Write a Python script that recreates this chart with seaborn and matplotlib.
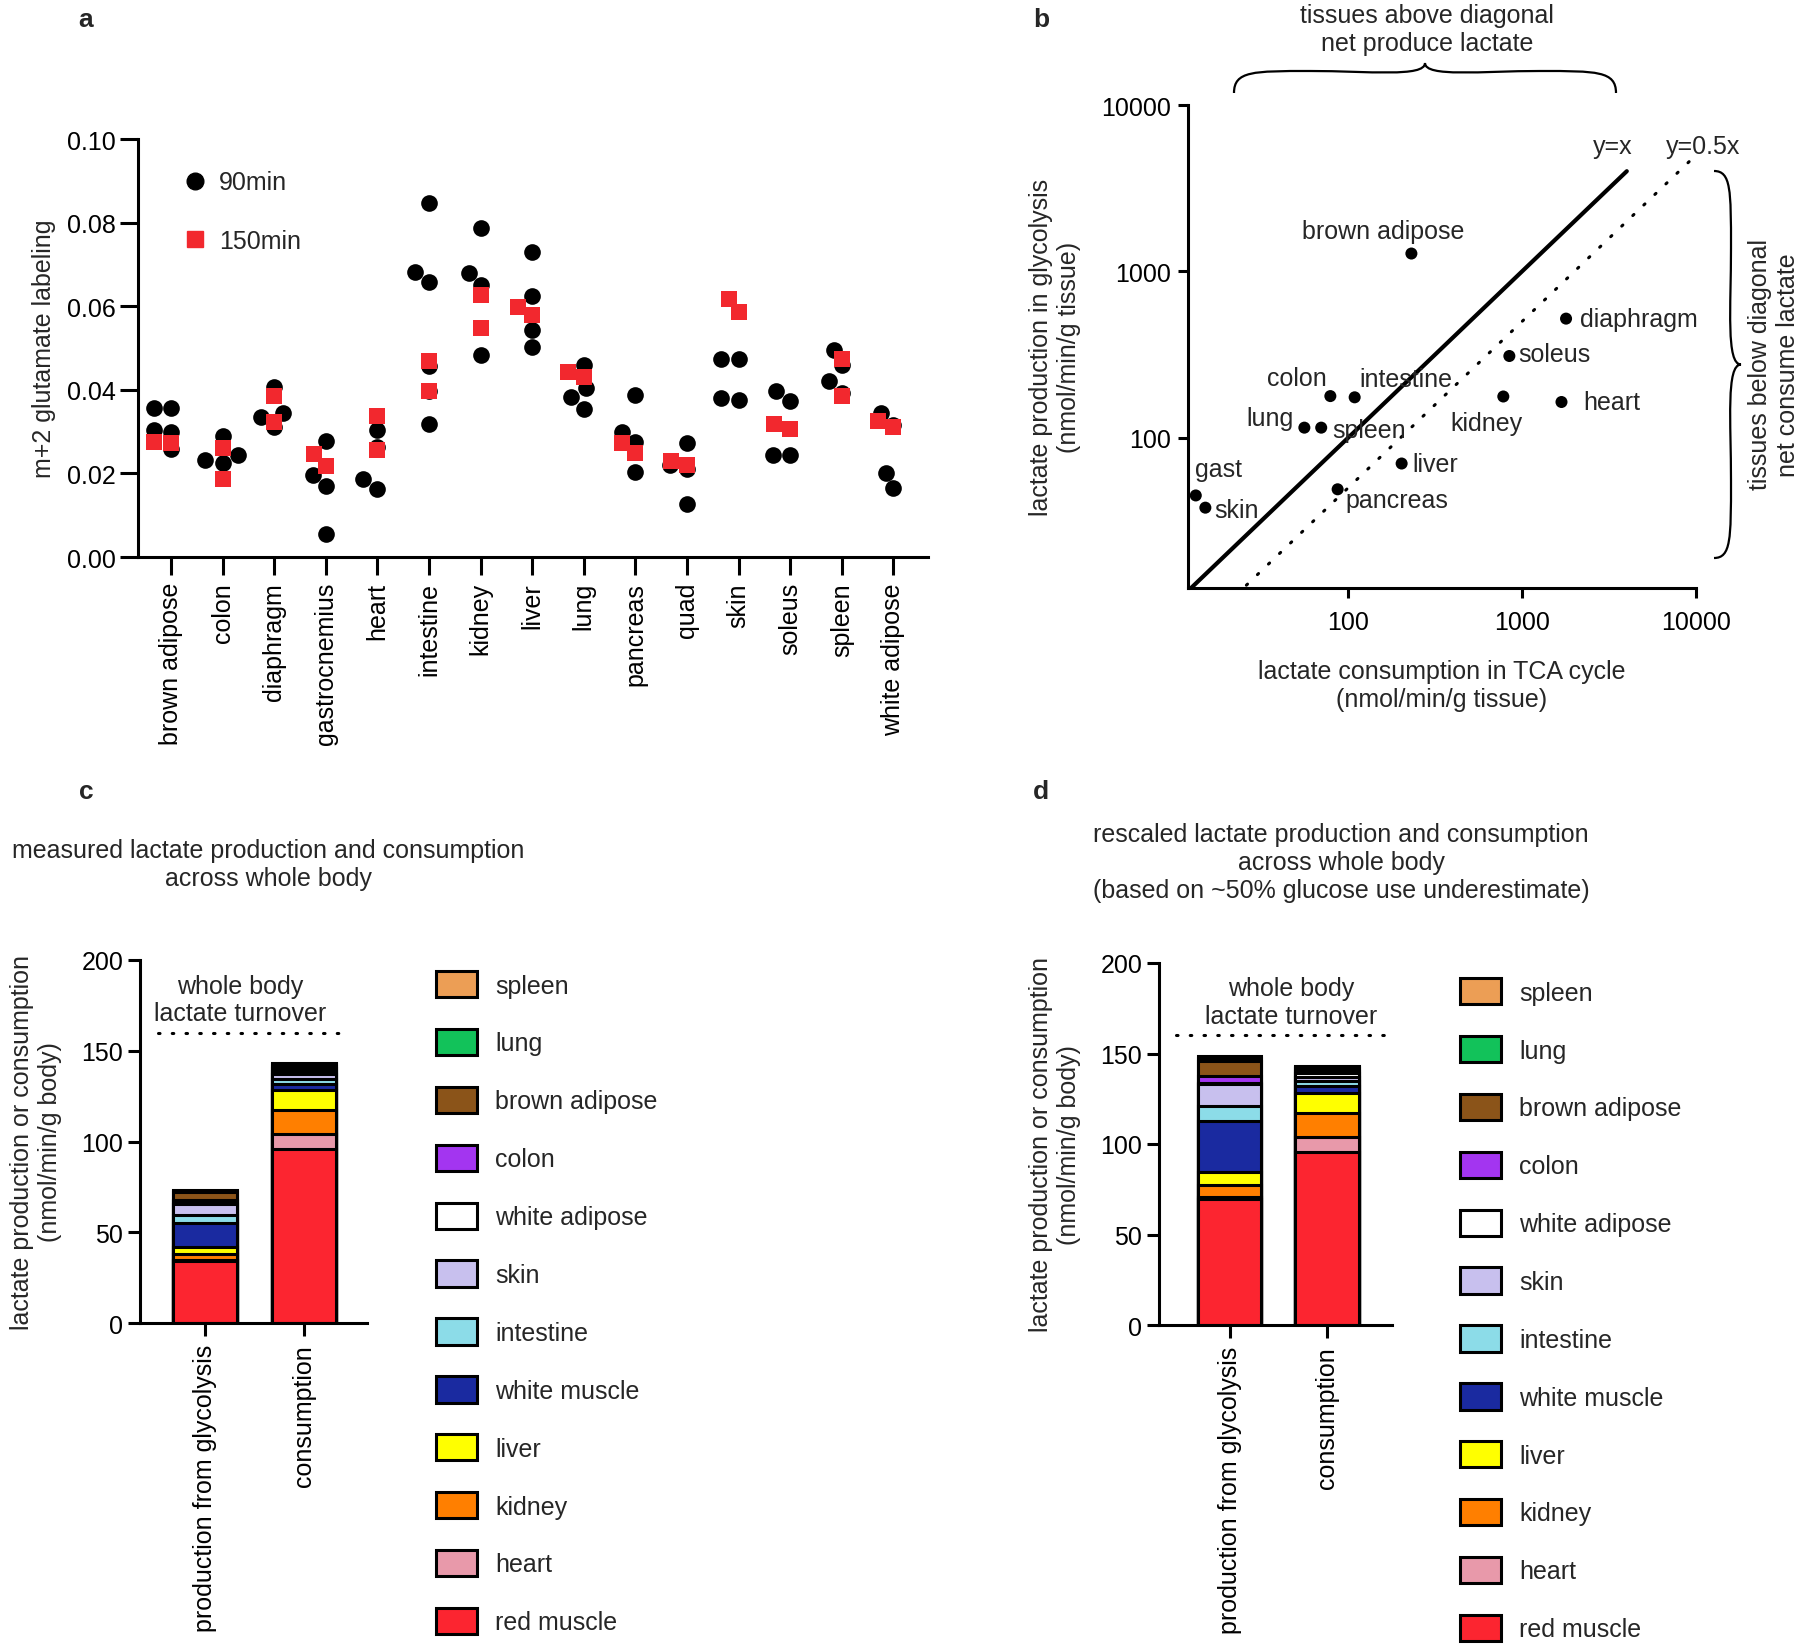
import numpy as np
import pandas as pd
import seaborn as sns
import matplotlib.pyplot as plt
from matplotlib.patches import Patch, PathPatch
from matplotlib.lines import Line2D
from matplotlib.path import Path
from matplotlib.ticker import NullLocator, FormatStrFormatter


# ---- panel a data: m+2 glutamate labeling per tissue ----
tissues_a = ['brown adipose', 'colon', 'diaphragm', 'gastrocnemius', 'heart',
             'intestine', 'kidney', 'liver', 'lung', 'pancreas', 'quad',
             'skin', 'soleus', 'spleen', 'white adipose']
glu_90min = [
    [0.0356, 0.0356, 0.0304, 0.0298, 0.0258],
    [0.0290, 0.0244, 0.0232, 0.0224],
    [0.0406, 0.0344, 0.0336, 0.0310],
    [0.0278, 0.0196, 0.0170, 0.0056],
    [0.0304, 0.0262, 0.0186, 0.0162],
    [0.0848, 0.0682, 0.0658, 0.0458, 0.0398, 0.0318],
    [0.0786, 0.0680, 0.0650, 0.0484],
    [0.0730, 0.0624, 0.0542, 0.0502],
    [0.0460, 0.0404, 0.0382, 0.0354],
    [0.0387, 0.0300, 0.0274, 0.0204],
    [0.0272, 0.0220, 0.0210, 0.0126],
    [0.0474, 0.0474, 0.0380, 0.0376],
    [0.0398, 0.0374, 0.0244, 0.0244],
    [0.0496, 0.0460, 0.0420, 0.0392],
    [0.0344, 0.0316, 0.0200, 0.0164],
]
glu_150min = [
    [0.0276, 0.0272],
    [0.0260, 0.0186],
    [0.0386, 0.0324],
    [0.0246, 0.0218],
    [0.0338, 0.0256],
    [0.0468, 0.0398],
    [0.0626, 0.0548],
    [0.0598, 0.0578],
    [0.0442, 0.0430],
    [0.0272, 0.0250],
    [0.0230, 0.0220],
    [0.0618, 0.0586],
    [0.0318, 0.0306],
    [0.0474, 0.0384],
    [0.0326, 0.0312],
]

# ---- panel b data: lactate consumption (TCA) vs production (glycolysis) ----
tissues_b = ['brown adipose', 'diaphragm', 'soleus', 'heart', 'kidney', 'colon',
             'intestine', 'lung', 'spleen', 'liver', 'pancreas', 'gast', 'skin']
consumption_tca = [231, 1790, 845, 1685, 780, 79, 109, 56, 70, 203, 87, 13.3, 15.1]
production_glyc = [1280, 520, 310, 164, 177, 178, 175, 115, 115, 70, 49, 45, 38]
# label offsets in points (dx, dy, ha)
label_offsets = [(-20, 16, 'center'), (10, 0, 'left'), (6.6, 1.6, 'left'),
                 (15.7, 0, 'left'), (-12, -19, 'center'), (-2.5, 13, 'right'),
                 (3.3, 13, 'left'), (-7.4, 6.6, 'right'), (8.3, -1.6, 'left'),
                 (7.4, 0, 'left'), (5.8, -7.4, 'left'), (-0.8, 19, 'left'),
                 (6.6, -1.6, 'left')]

# ---- panels c/d data: stacked whole body lactate flux (bottom -> top) ----
layers = ['red muscle', 'heart', 'kidney', 'liver', 'white muscle', 'intestine',
          'skin', 'white adipose', 'colon', 'brown adipose', 'lung', 'spleen']
layer_colors = ['#FC2530', '#E899AA', '#FF7F00', '#FFFF00', '#1A2AA0', '#8CDCE8',
                '#C8C0EE', '#FFFFFF', '#A335F0', '#8B5419', '#12C25A', '#EC9E55']
measured_production = [34.2, 0.7, 3.1, 3.7, 13.6, 4.4, 5.9, 1.5, 0.9, 4.4, 0.5, 0.5]
rescaled_production = [69.6, 1.3, 6.3, 7.6, 27.7, 8.5, 12.0, 0.7, 3.7, 8.5, 1.4, 1.4]
consumption = [95.6, 8.5, 13.2, 11.0, 3.5, 2.8, 2.6, 1.8, 1.5, 1.3, 0.7, 0.7]
bar_names = ['production from glycolysis', 'consumption']
whole_body_turnover = 160


sns.set_style('ticks')
plt.rcParams['font.family'] = ['Liberation Sans', 'DejaVu Sans']
plt.rcParams['font.size'] = 18
plt.rcParams['axes.linewidth'] = 2.2
plt.rcParams['xtick.major.width'] = 2.2
plt.rcParams['ytick.major.width'] = 2.2
plt.rcParams['xtick.color'] = 'black'
plt.rcParams['ytick.color'] = 'black'
plt.rcParams['axes.edgecolor'] = 'black'

W, H = 1800, 1649
fig = plt.figure(figsize=(18, 16.49), dpi=100)


def px_axes(left, top, right, bottom):
    return fig.add_axes([left / W, 1 - bottom / H, (right - left) / W, (bottom - top) / H])


def brace(x0, y0, x1, y1, depth, tip, vertical=False):
    # curly brace between two points (pixel coords, y from top), bulging by depth
    if not vertical:
        xm = (x0 + x1) / 2
        w = x1 - x0
        ya, yt = y0 - depth, y0 - tip
        pts = [(x0, y0), (x0, ya), (x0 + 0.05 * w, ya), (x0 + 0.2 * w, ya),
               (x0 + 0.35 * w, ya), (xm, ya + 0.3 * depth), (xm, yt),
               (xm, ya + 0.3 * depth), (x1 - 0.35 * w, ya), (x1 - 0.2 * w, ya),
               (x1 - 0.05 * w, ya), (x1, ya), (x1, y1)]
    else:
        ym = (y0 + y1) / 2
        h = y1 - y0
        xa, xt = x0 + depth, x0 + tip
        pts = [(x0, y0), (xa, y0), (xa, y0 + 0.05 * h), (xa, y0 + 0.2 * h),
               (xa, y0 + 0.35 * h), (xa - 0.3 * depth, ym), (xt, ym),
               (xa - 0.3 * depth, ym), (xa, y1 - 0.35 * h), (xa, y1 - 0.2 * h),
               (xa, y1 - 0.05 * h), (xa, y1), (x1, y1)]
    verts = [(x / W, 1 - y / H) for x, y in pts]
    codes = [Path.MOVETO] + [Path.CURVE4] * 12
    fig.add_artist(PathPatch(Path(verts, codes), fill=False, lw=1.6,
                             edgecolor='black', transform=fig.transFigure))


red = '#F2282E'

# ---------------- panel a ----------------
ax_a = px_axes(138, 140, 928, 558)
rows = []
for t, v90, v150 in zip(tissues_a, glu_90min, glu_150min):
    rows += [(t, v, '90min') for v in v90]
    rows += [(t, v, '150min') for v in v150]
df_a = pd.DataFrame(rows, columns=['tissue', 'labeling', 'time'])

sns.swarmplot(data=df_a[df_a.time == '90min'], x='tissue', y='labeling',
              order=tissues_a, color='black', size=12, ax=ax_a)
sns.swarmplot(data=df_a[df_a.time == '150min'], x='tissue', y='labeling',
              order=tissues_a, color=red, marker='s', size=11.5, ax=ax_a)
ax_a.set_xlim(-0.64, 14.67)
ax_a.set_ylim(0, 0.10)
ax_a.set_yticks(np.arange(0, 0.101, 0.02))
ax_a.yaxis.set_major_formatter(FormatStrFormatter('%.2f'))
ax_a.tick_params(axis='x', rotation=90, length=13, pad=5)
ax_a.tick_params(axis='y', length=13, pad=3)
ax_a.set_xlabel('')
ax_a.set_ylabel('m+2 glutamate labeling', labelpad=8)
sns.despine(ax=ax_a)
handles_a = [Line2D([], [], marker='o', color='black', linestyle='', markersize=12),
             Line2D([], [], marker='s', color=red, linestyle='', markersize=11.5)]
ax_a.legend(handles_a, ['90min', '150min'], loc='upper left', frameon=False,
            bbox_to_anchor=(0.06, 0.925), handlelength=0.8, handletextpad=0.55,
            labelspacing=1.38, borderpad=0, borderaxespad=0)

# ---------------- panel b ----------------
ax_b = px_axes(1188, 106, 1696, 589)
sns.scatterplot(x=consumption_tca, y=production_glyc, color='black', s=75,
                edgecolor='none', ax=ax_b, legend=False)
ax_b.set_xscale('log')
ax_b.set_yscale('log')
ax_b.set_xlim(12, 10000)
ax_b.set_ylim(12.5, 10000)
ax_b.plot([12.5, 4000], [12.5, 4000], color='black', lw=3)
ax_b.plot([26, 10000], [13, 5000], color='black', lw=2.2,
          linestyle=(0, (0.5, 4.5)), dash_capstyle='round')
ax_b.text(3300, 5700, 'y=x', ha='center', va='center')
ax_b.text(10970, 5700, 'y=0.5x', ha='center', va='center')
for name, x, y, (dx, dy, ha) in zip(tissues_b, consumption_tca, production_glyc, label_offsets):
    ax_b.annotate(name, (x, y), xytext=(dx, dy), textcoords='offset points',
                  ha=ha, va='center')
for axis in (ax_b.xaxis, ax_b.yaxis):
    axis.set_minor_locator(NullLocator())
ax_b.set_xticks([100, 1000, 10000])
ax_b.set_xticklabels(['100', '1000', '10000'])
ax_b.set_yticks([100, 1000, 10000])
ax_b.set_yticklabels(['100', '1000', '10000'])
ax_b.tick_params(axis='x', length=7, pad=9)
ax_b.tick_params(axis='y', length=7, pad=5)
ax_b.set_xlabel('lactate consumption in TCA cycle\n(nmol/min/g tissue)', labelpad=18)
ax_b.set_ylabel('lactate production in glycolysis\n(nmol/min/g tissue)', labelpad=15)
sns.despine(ax=ax_b)

brace(1234, 94, 1616, 94, 22, 30)
fig.text(1427 / W, 1 - 30 / H, 'tissues above diagonal\nnet produce lactate',
         ha='center', va='center')
brace(1714, 172, 1714, 559, 17, 27, vertical=True)
fig.text(1774 / W, 1 - 365 / H, 'tissues below diagonal\nnet consume lactate',
         ha='center', va='center', rotation=90)


# ---------------- panels c and d ----------------
def stacked_panel(ax, production, xlim, text_x, line_x):
    cum_p = np.cumsum(production)
    cum_c = np.cumsum(consumption)
    for i in reversed(range(len(layers))):
        sns.barplot(x=bar_names, y=[cum_p[i], cum_c[i]], color=layer_colors[i],
                    saturation=1, edgecolor='black', linewidth=2.2, width=0.65, ax=ax)
    ax.plot(line_x, [whole_body_turnover] * 2, color='black', lw=2.2,
            linestyle=(0, (0.5, 4)), dash_capstyle='round')
    ax.text(text_x, whole_body_turnover + 4, 'whole body\nlactate turnover',
            ha='center', va='bottom')
    ax.set_xlim(*xlim)
    ax.set_ylim(0, 200)
    ax.set_yticks(np.arange(0, 201, 50))
    ax.tick_params(axis='x', rotation=90, length=9, pad=6)
    ax.tick_params(axis='y', length=9, pad=3)
    ax.set_ylabel('lactate production or consumption\n(nmol/min/g body)', labelpad=14)
    sns.despine(ax=ax)
    handles = [Patch(facecolor=c, edgecolor='black', linewidth=2.2)
               for c in layer_colors[::-1]]
    return handles


legend_kw = dict(loc='upper left', frameon=False, handlelength=1.65, handleheight=1.25,
                 handletextpad=0.72, labelspacing=1.25, borderpad=0, borderaxespad=0)

ax_c = px_axes(140, 961, 367, 1324)
h_c = stacked_panel(ax_c, measured_production, (-0.66, 1.64), 0.35, [-0.48, 1.47])
fig.legend(h_c, layers[::-1], bbox_to_anchor=(436 / W, 1 - 972 / H), **legend_kw)
fig.text(268 / W, 1 - 865 / H, 'measured lactate production and consumption\nacross whole body',
         ha='center', va='center')

ax_d = px_axes(1159, 964, 1392, 1326)
h_d = stacked_panel(ax_d, rescaled_production, (-0.73, 1.67), 0.63, [-0.55, 1.6])
fig.legend(h_d, layers[::-1], bbox_to_anchor=(1460 / W, 1 - 979 / H), **legend_kw)
fig.text(1341 / W, 1 - 863 / H,
         'rescaled lactate production and consumption\nacross whole body\n'
         '(based on ~50% glucose use underestimate)', ha='center', va='center')

# panel letters
for letter, x, y in [('a', 86, 20), ('b', 1041, 20), ('c', 86, 792), ('d', 1041, 792)]:
    fig.text(x / W, 1 - y / H, letter, ha='center', va='center', fontsize=19, weight='bold')

fig.savefig('out.png', dpi=100)
